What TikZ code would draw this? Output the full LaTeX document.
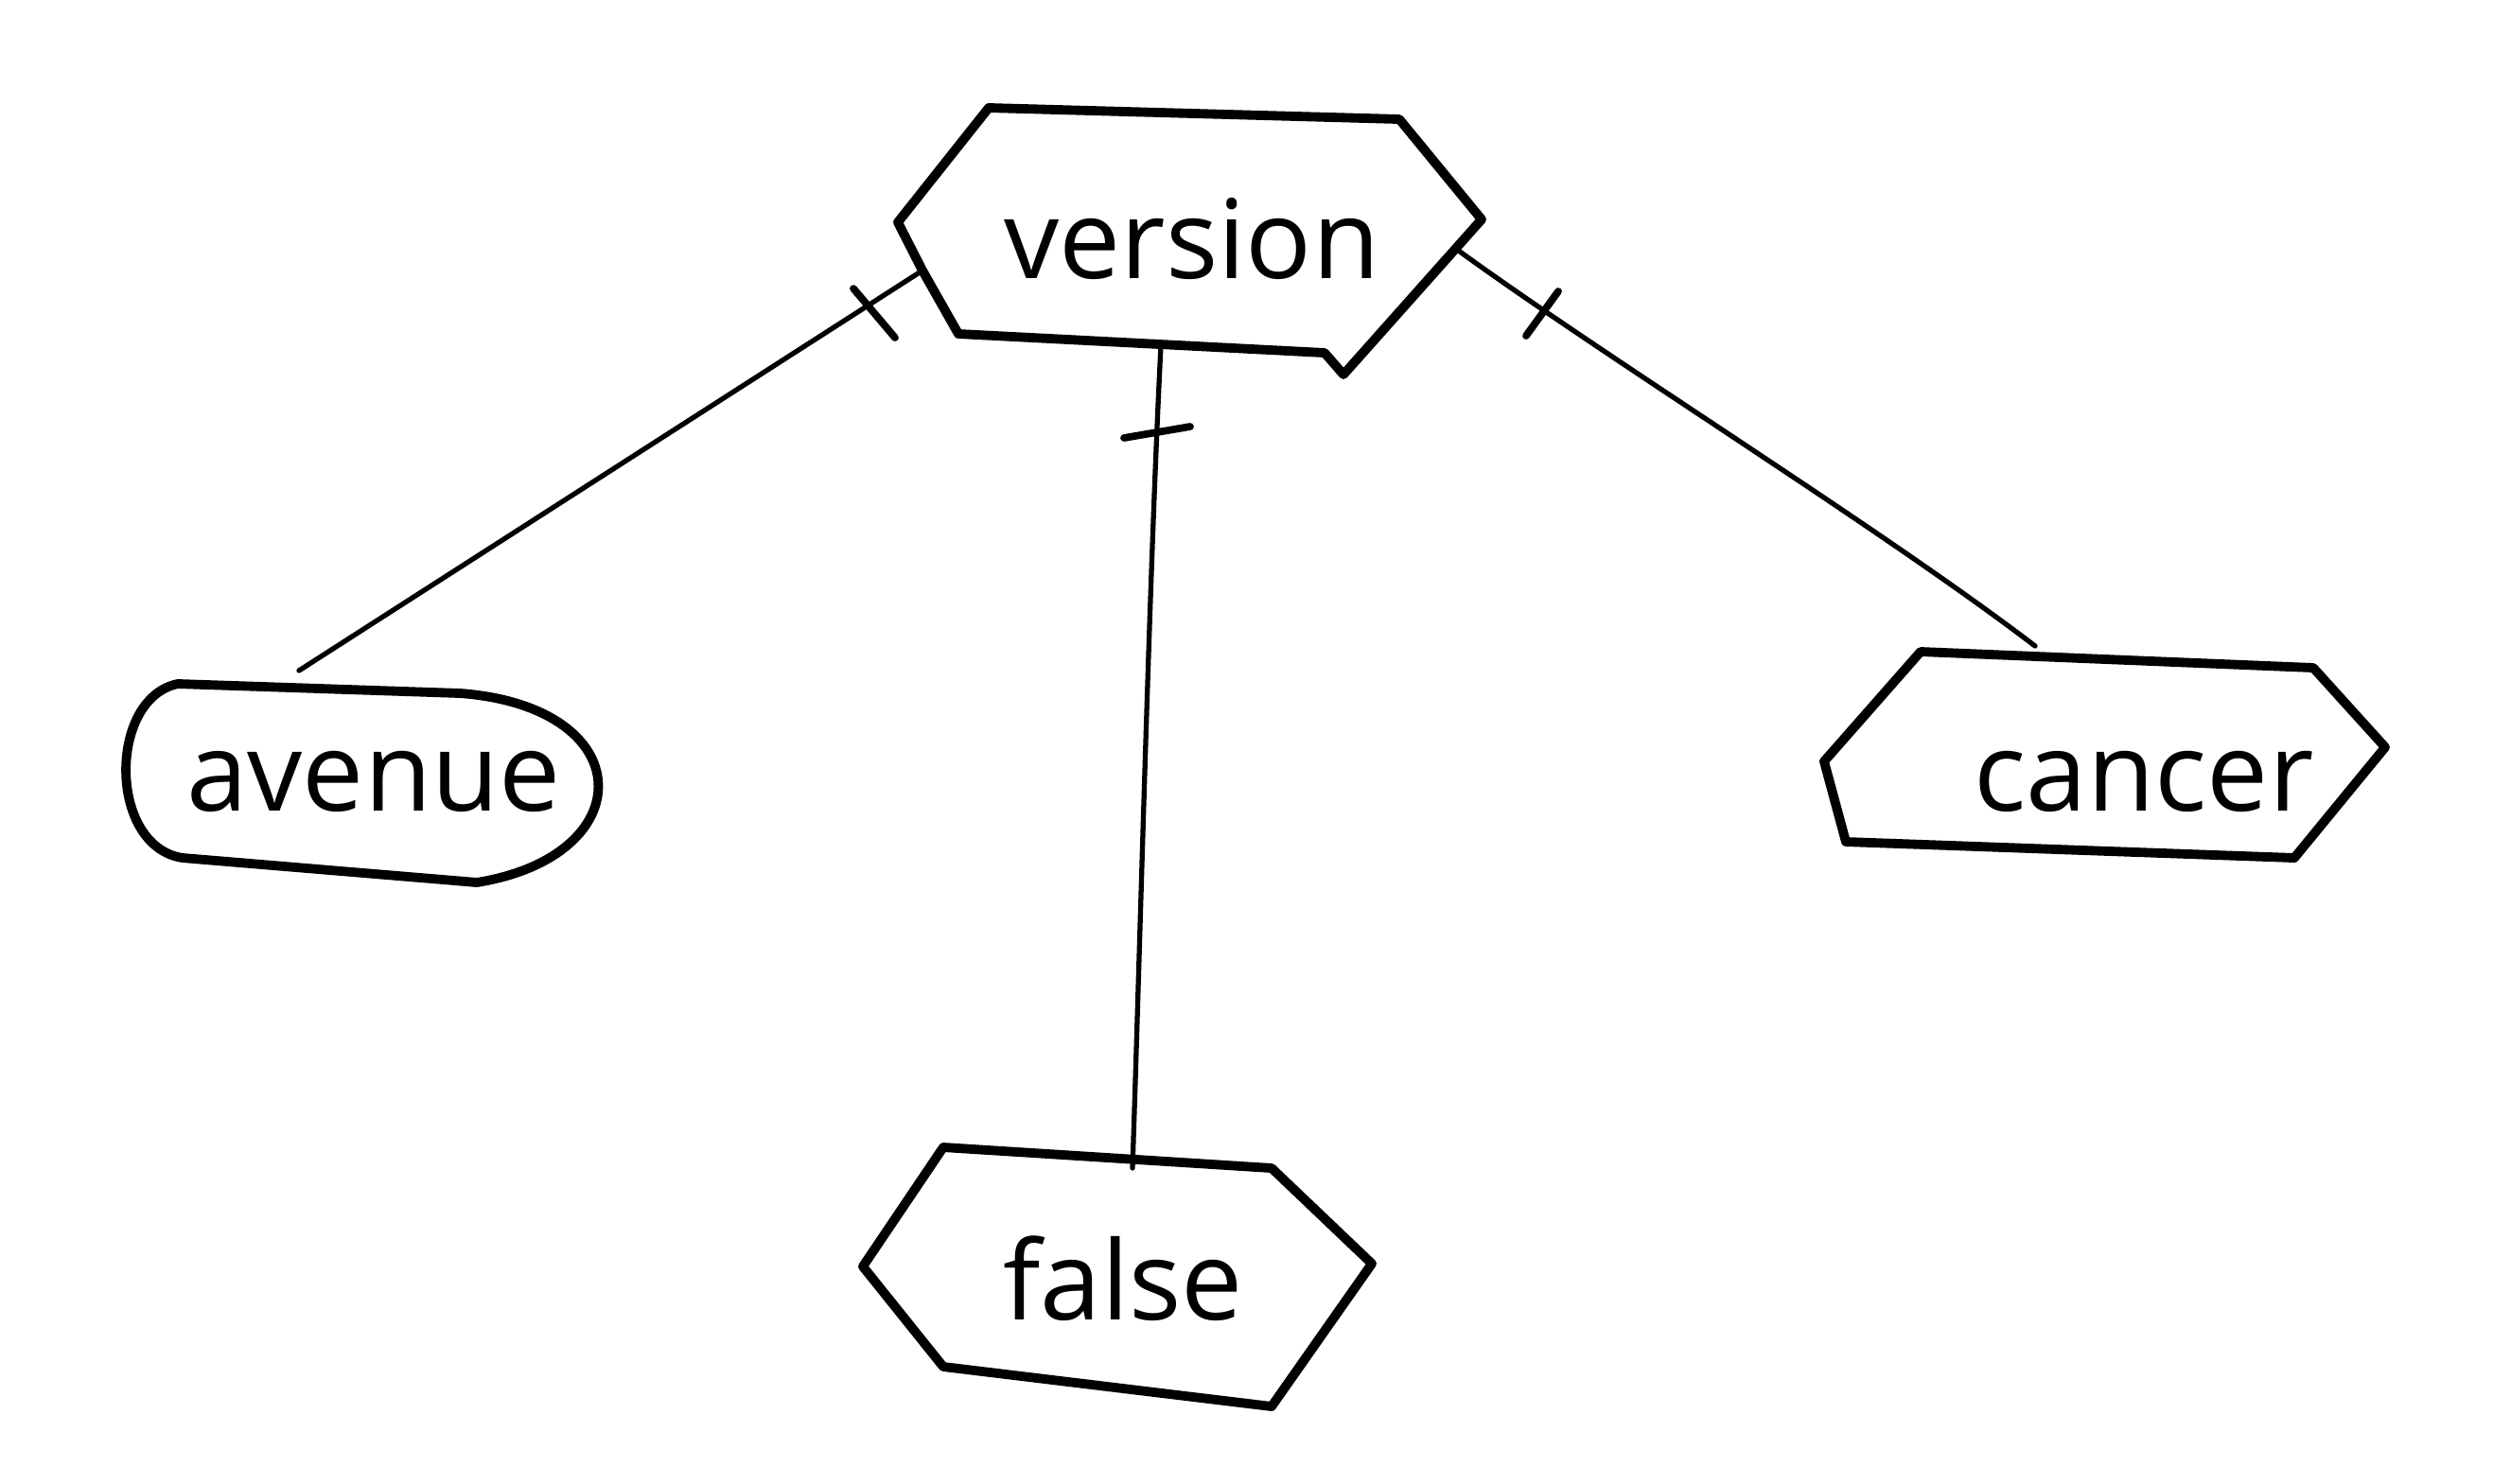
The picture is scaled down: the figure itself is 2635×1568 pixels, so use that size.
\documentclass[tikz,border=0pt]{standalone}
\usepackage{fontspec}
\setmainfont{Open Sans}
\begin{document}
\begin{tikzpicture}[x=0.01cm,y=-0.01cm,
  outline/.style={line width=2.8pt, line join=round, line cap=round},
  conn/.style={line width=1.5pt, line cap=round},
  tickmark/.style={line width=2.2pt, line cap=round},
  lbl/.style={font=\fontsize{33}{40}\selectfont, inner sep=0pt, anchor=base}]
\fill[white] (0,0) rectangle (2635,1568);
\useasboundingbox (0,0) rectangle (2635,1568);

% labels
\node[lbl] (ver) at (1260,294) {version};
\node[lbl] (ave) at (395,857) {avenue};
\node[lbl] (can) at (2266,857) {cancer};
\node[lbl] (fal) at (1187,1395) {false};

% outlines
\draw[outline] (1045,114) -- (1479,126) -- (1566,232) -- (1420,396) -- (1400,373)
  -- (1013,353) -- (975,286) -- (949,235) -- cycle;
\draw[outline] (188,723) -- (487,733) .. controls (678,748) and (678,905) .. (504,933)
  -- (193,907) .. controls (114,895) and (114,738) .. (188,723) -- cycle;
\draw[outline] (2030,689) -- (2445,706) -- (2521,790) -- (2425,907) -- (1951,890)
  -- (1928,805) -- cycle;
\draw[outline] (997,1213) -- (1344,1235) -- (1450,1336) -- (1344,1487) -- (997,1445)
  -- (912,1339) -- cycle;

% connector end points
\coordinate (verA) at (975,286);
\coordinate (verF) at (1227,366);
\coordinate (verC) at (1543,266);
\coordinate (aveT) at (316,709);
\coordinate (falT) at (1197,1235);
\coordinate (canT) at (2151,683);

% connectors
\draw[conn] (verA) -- (aveT);
\draw[conn] (verF) .. controls (1215,600) and (1205,1000) .. (falT);
\draw[conn] (verC) .. controls (1700,380) and (1990,560) .. (canT);

% ticks
\coordinate (ta1) at (902,305);
\coordinate (ta2) at (946,357);
\coordinate (tf1) at (1188,463);
\coordinate (tf2) at (1258,451);
\coordinate (tc1) at (1647,308);
\coordinate (tc2) at (1613,355);
\draw[tickmark] (ta1) -- (ta2);
\draw[tickmark] (tf1) -- (tf2);
\draw[tickmark] (tc1) -- (tc2);
\end{tikzpicture}
\end{document}
